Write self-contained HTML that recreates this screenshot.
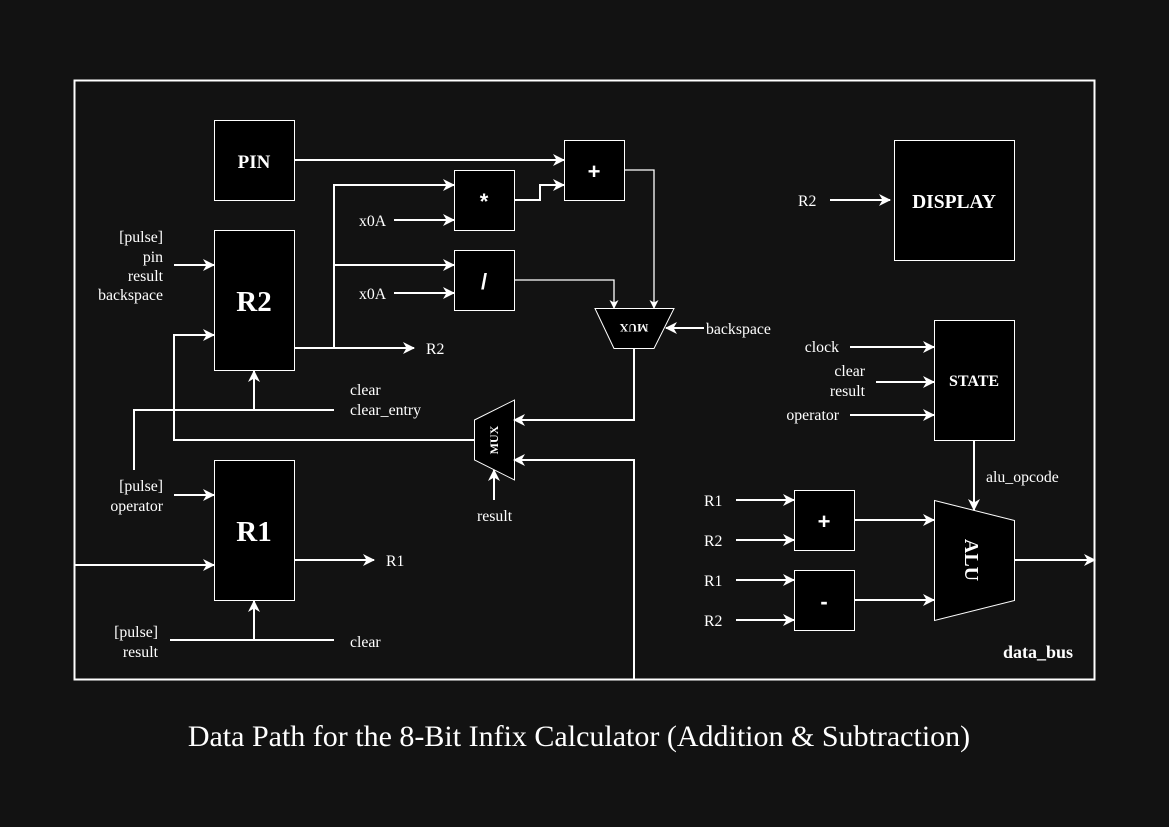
<!DOCTYPE html>
<html><head><meta charset="utf-8"><style>
html,body{margin:0;padding:0;background:#121212;}
svg{display:block;}
text{font-family:"Liberation Serif",serif;fill:#fff;}
.l{font-size:15.8px;}
.b{font-weight:bold;}
.s{font-family:"Liberation Sans",sans-serif;}
</style></head><body>
<svg width="1169" height="827" viewBox="0 0 1169 827" xmlns="http://www.w3.org/2000/svg">
<defs>
<marker id="a" markerWidth="12" markerHeight="12" refX="11" refY="6" orient="auto" markerUnits="userSpaceOnUse">
<path d="M0,0 L12,6 L0,12 L3.5,6 Z" fill="#fff"/></marker>
<marker id="s" markerWidth="9" markerHeight="9" refX="8" refY="4.5" orient="auto" markerUnits="userSpaceOnUse">
<path d="M0,0 L9,4.5 L0,9 L2.5,4.5 Z" fill="#fff"/></marker>
</defs>
<rect width="1169" height="827" fill="#121212"/>
<rect x="74.5" y="80.5" width="1020" height="599" fill="none" stroke="#fff" stroke-width="2"/>

<g fill="#000" stroke="#fff" stroke-width="1">
<rect x="214.5" y="120.5" width="80" height="80"/>
<rect x="214.5" y="230.5" width="80" height="140"/>
<rect x="214.5" y="460.5" width="80" height="140"/>
<rect x="454.5" y="170.5" width="60" height="60"/>
<rect x="454.5" y="250.5" width="60" height="60"/>
<rect x="564.5" y="140.5" width="60" height="60"/>
<rect x="894.5" y="140.5" width="120" height="120"/>
<rect x="934.5" y="320.5" width="80" height="120"/>
<rect x="794.5" y="490.5" width="60" height="60"/>
<rect x="794.5" y="570.5" width="60" height="60"/>
<polygon points="934.5,500.5 1014.5,520.5 1014.5,600.5 934.5,620.5"/>
<polygon points="595,308.5 674,308.5 654,348.5 614,348.5"/>
<polygon points="474.5,420 514.5,400 514.5,480 474.5,460"/>
</g>

<g fill="none" stroke="#fff" stroke-width="2">
<path d="M294,160 H564" marker-end="url(#a)"/>
<path d="M294,348 H414" marker-end="url(#a)"/>
<path d="M334,348 V185 H454" marker-end="url(#a)"/>
<path d="M334,265 H454" marker-end="url(#a)"/>
<path d="M394,220 H454" marker-end="url(#a)"/>
<path d="M394,293 H454" marker-end="url(#a)"/>
<path d="M514,200 H540 V185 H564" marker-end="url(#a)"/>
<path d="M704,328 H666" marker-end="url(#a)"/>
<path d="M634,348 V420 H514" marker-end="url(#a)"/>
<path d="M634,680 V460 H514" marker-end="url(#a)"/>
<path d="M494,500 V470" marker-end="url(#a)"/>
<path d="M474,440 H174 V335 H214" marker-end="url(#a)"/>
<path d="M334,410 H134 V470"/>
<path d="M254,410 V371" marker-end="url(#a)"/>
<path d="M174,265 H214" marker-end="url(#a)"/>
<path d="M174,495 H214" marker-end="url(#a)"/>
<path d="M74,565 H214" marker-end="url(#a)"/>
<path d="M294,560 H374" marker-end="url(#a)"/>
<path d="M170,640 H334"/>
<path d="M254,640 V601" marker-end="url(#a)"/>
<path d="M830,200 H890" marker-end="url(#a)"/>
<path d="M850,347 H934" marker-end="url(#a)"/>
<path d="M876,382 H934" marker-end="url(#a)"/>
<path d="M850,415 H934" marker-end="url(#a)"/>
<path d="M974,440 V510" marker-end="url(#a)"/>
<path d="M736,500 H794" marker-end="url(#a)"/>
<path d="M736,540 H794" marker-end="url(#a)"/>
<path d="M736,580 H794" marker-end="url(#a)"/>
<path d="M736,620 H794" marker-end="url(#a)"/>
<path d="M854,520 H934" marker-end="url(#a)"/>
<path d="M854,600 H934" marker-end="url(#a)"/>
<path d="M1014,560 H1095" marker-end="url(#a)"/>
</g>
<g fill="none" stroke="#fff" stroke-width="1.3">
<path d="M624,170 H654 V308" marker-end="url(#s)"/>
<path d="M514,280 H614 V308" marker-end="url(#s)"/>
</g>

<g class="b">
<text x="254" y="168" font-size="19" text-anchor="middle">PIN</text>
<text x="254" y="311" font-size="29" text-anchor="middle">R2</text>
<text x="254" y="541" font-size="29" text-anchor="middle">R1</text>
<text x="954" y="208" font-size="19.5" text-anchor="middle">DISPLAY</text>
<text x="974" y="386" font-size="16" text-anchor="middle">STATE</text>
<text x="1073" y="658" font-size="18" text-anchor="end">data_bus</text>
<text font-size="20" transform="translate(965,560) rotate(90)" text-anchor="middle">ALU</text>
<text font-size="12" transform="translate(634,324) rotate(180)" text-anchor="middle">MUX</text>
<text font-size="12" transform="translate(498,440) rotate(-90)" text-anchor="middle">MUX</text>
</g>
<g font-weight="bold" font-size="22" text-anchor="middle">
<text class="s" x="594" y="179">+</text>
<text class="s" x="484" y="209">*</text>
<text class="s" x="484" y="289">/</text>
<text class="s" x="824" y="529">+</text>
<text class="s" x="824" y="609">-</text>
</g>

<g class="l">
<g text-anchor="end">
<text x="163" y="242">[pulse]</text>
<text x="163" y="262">pin</text>
<text x="163" y="281">result</text>
<text x="163" y="300">backspace</text>
<text x="163" y="491">[pulse]</text>
<text x="163" y="511">operator</text>
<text x="158" y="637">[pulse]</text>
<text x="158" y="657">result</text>
<text x="839" y="352">clock</text>
<text x="865" y="376">clear</text>
<text x="865" y="396">result</text>
<text x="839" y="420">operator</text>
</g>
<text x="359" y="226">x0A</text>
<text x="359" y="299">x0A</text>
<text x="426" y="354">R2</text>
<text x="350" y="395">clear</text>
<text x="350" y="415">clear_entry</text>
<text x="706" y="334">backspace</text>
<text x="477" y="521">result</text>
<text x="386" y="566">R1</text>
<text x="350" y="647">clear</text>
<text x="798" y="206">R2</text>
<text x="986" y="482">alu_opcode</text>
<text x="704" y="506">R1</text>
<text x="704" y="546">R2</text>
<text x="704" y="586">R1</text>
<text x="704" y="626">R2</text>
</g>
<text x="579" y="746" font-size="30" text-anchor="middle">Data Path for the 8-Bit Infix Calculator (Addition &amp; Subtraction)</text>
</svg>
</body></html>
